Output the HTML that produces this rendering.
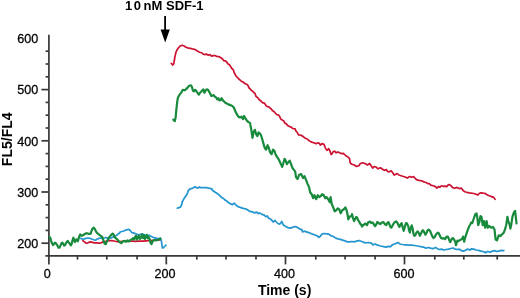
<!DOCTYPE html><html><head><meta charset="utf-8"><style>html,body{margin:0;padding:0;background:#fff;}svg{display:block;}text{font-family:"Liberation Sans",sans-serif;}.t{opacity:0.999;}</style></head><body>
<svg width="520" height="298" viewBox="0 0 520 298">
<rect width="520" height="298" fill="#fff"/>
<g stroke="#383838" stroke-width="1.7" fill="none" stroke-linecap="butt">
<line x1="48.9" y1="34.8" x2="48.9" y2="264.4"/>
<line x1="45.4" y1="255.9" x2="520" y2="255.9"/>
<line x1="41.4" y1="89.6" x2="48.9" y2="89.6"/>
<line x1="41.4" y1="140.8" x2="48.9" y2="140.8"/>
<line x1="41.4" y1="192.0" x2="48.9" y2="192.0"/>
<line x1="41.4" y1="243.2" x2="48.9" y2="243.2"/>
<line x1="45.6" y1="230.4" x2="48.9" y2="230.4"/>
<line x1="45.6" y1="217.6" x2="48.9" y2="217.6"/>
<line x1="45.6" y1="204.8" x2="48.9" y2="204.8"/>
<line x1="45.6" y1="179.2" x2="48.9" y2="179.2"/>
<line x1="45.6" y1="166.4" x2="48.9" y2="166.4"/>
<line x1="45.6" y1="153.6" x2="48.9" y2="153.6"/>
<line x1="45.6" y1="128.0" x2="48.9" y2="128.0"/>
<line x1="45.6" y1="115.2" x2="48.9" y2="115.2"/>
<line x1="45.6" y1="102.4" x2="48.9" y2="102.4"/>
<line x1="45.6" y1="76.8" x2="48.9" y2="76.8"/>
<line x1="45.6" y1="64.0" x2="48.9" y2="64.0"/>
<line x1="45.6" y1="51.2" x2="48.9" y2="51.2"/>
<line x1="166.3" y1="255.9" x2="166.3" y2="264.4"/>
<line x1="285.5" y1="255.9" x2="285.5" y2="264.4"/>
<line x1="404.5" y1="255.9" x2="404.5" y2="264.4"/>
<line x1="77.5" y1="255.9" x2="77.5" y2="259.6"/>
<line x1="106.8" y1="255.9" x2="106.8" y2="259.6"/>
<line x1="137.1" y1="255.9" x2="137.1" y2="259.6"/>
<line x1="196.8" y1="255.9" x2="196.8" y2="259.6"/>
<line x1="226" y1="255.9" x2="226" y2="259.6"/>
<line x1="256" y1="255.9" x2="256" y2="259.6"/>
<line x1="315.8" y1="255.9" x2="315.8" y2="259.6"/>
<line x1="345.1" y1="255.9" x2="345.1" y2="259.6"/>
<line x1="375.1" y1="255.9" x2="375.1" y2="259.6"/>
<line x1="434.8" y1="255.9" x2="434.8" y2="259.6"/>
<line x1="463.8" y1="255.9" x2="463.8" y2="259.6"/>
<line x1="497.2" y1="255.9" x2="497.2" y2="259.6"/>
</g>
<g class="t">
<g font-size="13.4" fill="#000" stroke="#000" stroke-width="0.3" text-anchor="end">
<text transform="translate(38.3,94.4) scale(0.94,1)">500</text>
<text transform="translate(38.3,145.6) scale(0.94,1)">400</text>
<text transform="translate(38.3,196.8) scale(0.94,1)">300</text>
<text transform="translate(38.3,248.0) scale(0.94,1)">200</text>
<text transform="translate(38.3,43.2) scale(0.94,1)">600</text>
</g>
<g font-size="13.4" fill="#000" stroke="#000" stroke-width="0.3" text-anchor="middle">
<text transform="translate(47.3,278.2) scale(0.94,1)">0</text>
<text transform="translate(165.0,278.2) scale(0.94,1)">200</text>
<text transform="translate(284.5,278.2) scale(0.94,1)">400</text>
<text transform="translate(403.9,278.2) scale(0.94,1)">600</text>
</g>
<text x="284.6" y="295" font-size="14" font-weight="bold" fill="#000" text-anchor="middle">Time (s)</text>
<text transform="translate(12,139.3) rotate(-90)" font-size="14" font-weight="bold" fill="#000" text-anchor="middle">FL5/FL4</text>
<text x="125" y="10.4" font-size="13" font-weight="bold" fill="#000">1<tspan dx="1.5">0</tspan><tspan dx="-1">&#160;nM SDF-1</tspan></text>
</g>
<line x1="165.1" y1="16" x2="165.1" y2="31" stroke="#000" stroke-width="1.8"/>
<polygon points="160.6,29.5 169.8,29.5 165.2,42.5" fill="#000"/>
<g fill="none" stroke-linejoin="round" stroke-linecap="round">
<path d="M82.8,240.6 L84.5,241.9 L86.3,243.2 L88.0,242.8 L90.2,241.9 L92.4,242.3 L94.6,242.8 L96.8,242.8 L99.0,243.2 L101.1,242.8 L103.3,241.9 L105.1,241.5 L107.3,241.0 L109.4,240.6 L111.6,240.6 L113.8,241.0 L116.4,241.5 L118.6,241.9 L120.8,241.5 L123.8,241.0 L127.5,241.4 L131.2,241.0 L135.0,241.4 L138.8,241.2 L142.5,241.2 L146.2,240.8 L150.0,240.4 L153.8,240.5 L157.5,239.8 L160.5,240.0" stroke="#cc1230" stroke-width="1.7"/>
<path d="M80.6,238.4 L83.2,239.3 L85.9,238.4 L88.5,238.0 L91.1,238.8 L93.7,239.7 L95.5,240.2 L96.8,239.3 L99.0,238.4 L100.7,238.0 L102.5,238.4 L104.2,238.0 L106.0,237.5 L108.6,238.4 L111.2,238.0 L112.9,237.1 L114.7,236.7 L116.4,235.4 L118.2,234.0 L119.9,232.7 L120.0,232.0 L121.9,231.5 L123.8,231.0 L125.6,230.1 L127.5,229.6 L128.9,229.4 L130.3,230.6 L131.7,232.5 L133.1,232.9 L135.0,233.4 L136.9,234.3 L138.8,234.8 L140.7,234.3 L142.5,233.9 L144.4,234.8 L146.3,235.7 L148.2,235.3 L150.0,235.7 L151.9,236.7 L153.8,237.6 L155.7,238.1 L157.6,238.6 L159.4,238.6 L160.4,238.1 L161.3,240.4 L161.8,244.2 L162.3,247.9 L163.2,247.9 L164.6,246.5 L166.0,245.1" stroke="#2596cf" stroke-width="1.7"/>
<path d="M49.6,237.2 L50.3,237.7 L51.2,241.1 L52.1,243.5 L53.0,245.0 L53.9,244.1 L54.9,242.6 L56.1,243.5 L57.3,245.3 L58.5,247.7 L59.4,247.7 L60.3,245.9 L61.5,243.2 L62.4,242.6 L63.3,244.1 L64.2,245.6 L65.1,245.0 L66.0,243.2 L67.0,241.7 L67.7,240.9 L68.5,242.1 L69.8,243.7 L70.8,245.3 L71.6,244.1 L72.4,240.9 L73.4,237.7 L74.2,240.1 L75.0,242.1 L75.8,240.1 L76.6,239.3 L77.8,241.3 L78.0,240.6 L79.3,236.2 L80.2,234.5 L81.5,235.8 L82.8,235.4 L84.1,234.5 L85.4,233.6 L86.7,233.2 L88.0,233.6 L89.4,234.0 L90.7,233.6 L91.5,231.0 L92.4,228.8 L93.7,227.7 L95.0,229.2 L95.9,231.4 L97.2,233.2 L99.0,234.5 L100.7,235.8 L102.0,236.7 L102.9,238.8 L103.8,241.5 L104.6,243.7 L105.8,244.1 L106.8,241.5 L108.1,239.3 L109.4,237.1 L110.8,235.4 L112.1,234.0 L112.9,233.6 L113.8,234.9 L114.7,237.1 L116.0,238.4 L117.3,239.3 L118.6,241.0 L119.9,242.3 L121.2,243.2 L121.9,242.3 L123.3,241.4 L124.7,240.9 L126.1,241.8 L127.5,240.4 L128.9,241.4 L130.3,240.0 L131.7,239.5 L133.1,238.1 L134.1,239.5 L135.0,237.1 L136.0,235.7 L136.9,239.5 L137.8,237.1 L138.8,235.7 L139.7,239.0 L140.7,238.1 L142.1,234.3 L143.0,238.1 L143.9,235.3 L144.9,239.0 L145.8,237.1 L146.8,234.8 L147.7,238.1 L148.6,237.1 L149.6,239.0 L150.5,242.8 L151.5,244.2 L152.4,241.8 L153.3,240.4 L154.7,240.0 L156.1,240.4 L157.6,240.0 L159.0,239.5 L160.4,238.6" stroke="#188a3c" stroke-width="2.2"/>
<path d="M171.2,63.3 L172.7,65.0 L173.8,63.8 L174.1,61.7 L174.3,60.5 L174.6,59.0 L174.8,57.4 L175.4,54.8 L176.0,52.2 L176.8,50.2 L177.8,48.7 L178.8,47.5 L180.1,46.0 L182.1,45.2 L184.1,46.0 L186.1,47.3 L187.7,47.9 L190.2,48.3 L192.2,48.9 L193.9,49.2 L195.7,49.9 L197.7,51.3 L199.6,52.2 L201.5,52.7 L202.9,53.9 L204.4,54.6 L206.4,54.1 L208.3,55.2 L209.9,54.5 L211.5,56.1 L213.1,55.6 L215.0,55.6 L216.9,56.5 L218.9,56.6 L220.8,57.7 L222.0,58.5 L223.8,60.6 L225.5,60.9 L226.7,62.0 L227.8,63.8 L229.0,64.4 L230.2,65.9 L231.4,67.8 L232.6,69.1 L233.4,70.0 L234.1,72.5 L234.9,73.8 L236.1,76.2 L237.3,77.3 L238.4,78.5 L239.6,79.6 L241.3,81.2 L243.1,82.0 L244.8,83.5 L246.6,84.3 L247.8,85.1 L249.0,87.9 L250.2,89.0 L251.4,90.4 L252.5,91.0 L253.7,92.6 L254.9,93.3 L256.0,96.4 L257.2,97.3 L258.4,98.4 L259.5,100.0 L260.7,100.8 L262.5,102.6 L264.3,103.1 L265.5,104.7 L266.6,106.2 L267.8,106.6 L269.6,107.6 L271.3,109.0 L272.5,110.7 L273.6,111.2 L274.8,112.5 L276.6,114.5 L278.3,114.9 L279.8,116.5 L280.0,117.6 L281.2,119.5 L282.5,120.1 L283.8,121.0 L285.0,123.4 L286.3,123.7 L287.6,125.4 L290.1,126.8 L291.4,127.1 L292.6,128.5 L295.1,128.8 L296.0,131.1 L296.8,131.8 L297.6,133.2 L298.5,134.8 L301.0,135.2 L303.5,136.8 L304.8,137.9 L306.0,138.5 L307.2,139.0 L308.5,140.2 L309.8,141.1 L311.0,141.9 L313.6,142.7 L316.1,143.6 L318.6,142.7 L319.5,143.7 L320.3,145.2 L321.9,143.6 L324.0,144.4 L324.6,145.8 L325.3,147.8 L326.1,149.2 L327.0,150.3 L328.7,148.6 L330.0,151.1 L330.6,153.0 L331.2,154.5 L332.0,153.9 L332.9,151.9 L334.5,151.1 L336.2,152.8 L337.9,151.9 L339.6,152.8 L341.2,153.6 L342.9,153.3 L344.6,154.5 L346.3,156.1 L348.0,157.0 L349.6,158.7 L349.9,161.1 L350.2,162.9 L351.9,164.2 L354.2,165.0 L356.5,166.5 L358.8,165.8 L360.4,163.5 L362.7,162.7 L365.0,163.5 L367.3,165.0 L369.6,163.5 L371.2,165.8 L372.7,168.1 L374.2,166.5 L376.5,167.3 L378.1,168.8 L380.4,167.8 L381.9,168.8 L384.2,170.4 L386.5,169.6 L387.6,171.5 L388.8,171.9 L391.2,170.8 L392.7,172.7 L394.2,175.0 L395.8,174.2 L397.3,173.5 L398.8,175.0 L401.2,175.8 L403.5,176.5 L405.8,177.3 L407.3,178.1 L409.6,176.5 L411.9,177.3 L413.5,176.5 L415.0,178.1 L416.5,179.6 L418.8,180.4 L421.2,180.7 L423.5,181.6 L425.0,182.2 L426.2,182.5 L427.7,183.6 L429.2,183.5 L430.8,185.1 L433.1,185.8 L435.4,186.6 L436.9,188.2 L438.5,186.6 L440.0,187.1 L441.5,185.8 L443.1,186.3 L444.6,186.2 L446.9,186.6 L448.0,185.0 L449.2,184.6 L450.8,185.5 L452.3,187.4 L454.6,188.2 L456.9,187.4 L459.2,188.6 L461.5,188.2 L463.1,190.5 L464.6,191.7 L466.9,192.3 L469.2,192.8 L471.5,193.2 L473.8,193.5 L476.2,194.3 L477.7,195.1 L479.2,193.5 L480.8,192.8 L483.1,193.2 L485.4,193.5 L486.9,194.8 L489.2,195.8 L491.5,196.6 L493.8,197.4 L495.1,199.4" stroke="#cc1230" stroke-width="1.7"/>
<path d="M177.4,208.2 L179.0,207.7 L180.6,206.9 L181.7,204.7 L182.2,202.0 L183.3,199.9 L184.9,197.2 L186.5,195.1 L187.6,192.9 L188.1,190.8 L189.7,189.1 L191.9,188.4 L193.5,187.7 L195.1,186.7 L196.2,187.5 L197.8,188.1 L199.4,187.0 L200.5,187.7 L202.1,187.5 L204.3,187.5 L206.4,187.7 L208.6,188.1 L212.0,188.8 L212.3,190.3 L214.5,191.8 L216.8,193.3 L219.0,194.8 L220.6,196.3 L222.1,197.8 L223.6,198.6 L225.1,200.1 L226.6,200.8 L228.1,202.3 L230.4,203.9 L232.6,204.6 L234.1,203.1 L236.4,205.4 L238.7,206.9 L240.9,207.6 L243.2,208.4 L245.4,208.8 L247.7,209.9 L250.0,211.4 L252.2,211.8 L254.5,212.9 L256.8,212.1 L258.3,213.7 L259.8,212.9 L262.0,214.4 L264.3,215.2 L265.8,216.7 L267.3,215.9 L268.8,218.2 L270.3,218.9 L271.8,220.4 L273.3,222.0 L274.9,220.4 L276.4,222.0 L277.9,223.5 L279.7,224.2 L280.3,223.5 L281.8,221.5 L282.6,223.4 L283.4,225.0 L285.7,226.5 L288.0,227.6 L290.3,228.1 L292.6,227.3 L294.9,226.5 L297.2,227.3 L299.5,228.8 L301.8,229.6 L302.6,231.9 L304.2,231.2 L306.5,231.9 L308.8,232.7 L311.1,233.5 L312.6,234.2 L314.9,235.0 L317.2,235.8 L318.8,237.3 L320.3,236.2 L321.8,234.2 L324.2,233.5 L326.5,233.8 L328.8,234.2 L331.1,235.8 L333.4,236.5 L335.7,238.1 L338.0,238.8 L340.3,239.3 L342.6,240.1 L344.9,240.8 L347.2,241.9 L349.5,241.9 L351.8,241.5 L354.2,241.9 L356.5,241.2 L358.0,240.8 L359.1,240.5 L362.2,241.7 L365.2,242.9 L368.3,242.5 L371.4,243.2 L372.9,244.8 L375.2,244.0 L377.5,245.1 L380.6,246.0 L383.7,246.6 L386.0,247.1 L388.3,246.3 L390.6,246.6 L392.2,244.8 L394.5,244.0 L396.8,243.2 L398.3,242.5 L399.8,244.0 L402.2,244.5 L405.2,244.8 L408.3,245.1 L411.4,245.1 L414.5,245.5 L417.5,246.0 L420.6,246.6 L423.7,247.1 L426.0,248.2 L428.3,247.5 L430.6,248.2 L432.9,248.6 L436.0,247.5 L436.9,248.5 L439.2,249.5 L441.5,249.1 L443.8,250.0 L446.2,249.5 L448.5,249.1 L450.8,248.5 L453.1,248.0 L454.6,248.8 L456.9,249.5 L459.2,249.1 L460.8,250.3 L463.1,251.1 L465.4,250.3 L467.7,249.1 L470.0,250.0 L471.5,248.8 L473.8,249.1 L476.2,250.0 L478.5,250.3 L480.8,251.1 L483.1,251.5 L485.4,252.6 L487.7,251.5 L490.0,252.2 L492.3,251.1 L494.6,250.6 L496.9,251.5 L499.2,250.8 L501.5,250.4 L503.8,250.7" stroke="#2596cf" stroke-width="1.75"/>
<path d="M173.3,119.6 L174.8,121.1 L175.6,117.8 L176.3,110.2 L177.1,102.7 L177.8,98.1 L179.3,95.1 L181.6,92.1 L182.8,89.8 L184.6,90.3 L186.1,89.1 L187.6,87.6 L189.1,85.7 L190.7,85.3 L191.9,86.8 L192.9,90.6 L194.0,91.3 L195.2,89.8 L196.0,90.5 L197.5,92.8 L198.8,94.7 L199.9,92.8 L200.9,92.0 L202.2,90.5 L203.4,89.4 L204.5,92.8 L205.6,90.5 L206.8,89.4 L208.0,89.7 L209.1,91.6 L210.2,93.6 L211.4,95.9 L212.7,95.6 L213.7,95.1 L214.8,96.7 L216.1,97.4 L217.3,99.3 L218.4,98.2 L219.5,100.5 L220.7,100.2 L221.5,98.2 L222.5,99.7 L223.8,101.3 L225.3,102.8 L226.9,103.6 L228.4,104.4 L230.3,105.1 L232.3,105.9 L233.8,107.5 L235.4,111.3 L236.9,114.4 L238.4,116.7 L240.0,117.5 L241.5,116.7 L243.1,119.0 L244.1,116.0 L245.4,118.3 L246.9,120.6 L248.5,122.1 L250.0,122.9 L251.3,129.8 L252.5,137.9 L253.8,131.6 L254.9,129.8 L256.2,134.3 L257.4,136.1 L258.5,132.5 L259.8,133.4 L261.0,135.2 L262.1,138.8 L263.4,143.4 L264.7,147.9 L266.1,149.7 L267.6,145.2 L268.8,147.9 L270.1,152.4 L271.6,154.2 L273.0,149.7 L274.3,150.6 L275.5,154.2 L277.0,156.9 L278.4,158.8 L279.7,161.5 L281.0,164.2 L282.1,166.9 L283.3,163.3 L284.6,158.8 L285.7,160.6 L286.9,164.2 L288.2,162.4 L289.7,160.6 L291.1,164.2 L292.4,167.8 L293.7,169.6 L295.1,171.4 L295.4,173.1 L296.0,177.1 L297.6,179.1 L299.0,175.1 L301.1,174.1 L303.1,178.1 L304.5,176.1 L306.1,180.1 L307.7,184.1 L309.1,187.1 L310.1,192.2 L311.7,194.2 L313.1,198.2 L314.5,195.2 L316.1,199.2 L317.8,195.2 L319.2,197.2 L320.6,196.2 L322.2,194.2 L323.8,195.2 L325.2,198.2 L326.6,197.2 L328.2,199.2 L329.8,202.2 L330.6,197.2 L331.8,204.2 L333.2,207.3 L334.7,211.3 L336.3,210.3 L337.9,208.3 L339.3,209.3 L340.7,213.3 L342.3,210.3 L343.9,209.3 L345.3,207.3 L346.3,209.3 L347.3,213.3 L348.3,219.3 L349.9,216.3 L351.7,216.5 L352.0,214.1 L353.0,218.1 L354.1,221.1 L355.1,219.1 L356.1,217.1 L357.1,217.6 L358.1,220.1 L359.1,221.6 L360.1,223.6 L361.1,224.6 L362.1,226.6 L363.1,225.1 L364.1,224.6 L365.1,223.6 L366.1,224.1 L367.1,225.1 L368.1,222.6 L369.1,222.1 L370.1,221.6 L371.2,223.1 L372.2,222.6 L373.2,223.1 L374.2,225.1 L375.2,226.1 L376.2,224.6 L377.2,222.1 L378.2,222.6 L379.2,223.6 L380.2,224.1 L381.2,223.1 L382.2,222.6 L383.2,222.1 L384.2,223.1 L385.2,224.6 L386.2,225.1 L387.3,223.1 L388.3,222.1 L389.3,224.1 L390.3,226.6 L391.3,227.6 L392.3,226.1 L393.3,224.1 L394.3,222.6 L395.0,222.0 L396.1,221.4 L397.2,222.5 L398.3,224.7 L399.4,226.9 L400.5,224.7 L401.6,223.1 L402.7,227.5 L403.8,230.8 L404.9,226.4 L406.0,223.1 L407.1,223.6 L408.3,226.4 L409.0,230.3 L409.9,232.5 L410.8,228.0 L411.7,225.3 L412.7,228.6 L413.5,234.1 L414.3,235.8 L415.4,235.2 L416.5,232.5 L417.7,231.4 L418.8,233.0 L419.9,235.8 L421.0,233.6 L422.1,230.8 L423.2,230.3 L424.3,232.5 L425.4,234.7 L426.5,233.0 L427.6,230.3 L428.7,229.7 L430.0,230.8 L431.2,233.6 L432.3,236.3 L433.4,238.0 L434.5,237.4 L435.6,235.2 L436.7,233.6 L438.0,232.6 L439.0,233.6 L440.0,236.1 L441.0,238.1 L442.1,238.6 L443.6,238.1 L445.1,239.1 L446.6,236.6 L447.9,236.6 L449.1,239.6 L450.1,242.2 L451.1,240.2 L452.1,238.6 L453.1,238.1 L454.1,239.6 L455.2,241.7 L456.0,245.2 L456.7,242.7 L457.4,240.7 L458.4,241.2 L459.7,240.2 L461.0,239.6 L462.0,239.1 L463.0,236.6 L463.7,239.1 L464.2,241.7 L465.0,238.1 L466.0,235.1 L467.0,232.1 L467.7,230.1 L468.5,228.1 L469.3,226.0 L470.3,224.5 L471.3,222.5 L472.3,223.0 L473.1,220.5 L473.8,218.5 L475.2,214.3 L476.5,213.4 L477.2,216.8 L478.2,225.2 L479.4,221.8 L480.5,216.0 L481.5,216.8 L482.7,225.2 L483.9,221.0 L485.2,227.7 L486.6,221.0 L487.8,227.7 L489.4,226.0 L491.1,227.7 L492.8,226.9 L494.5,229.4 L495.6,239.5 L497.0,240.3 L498.7,235.3 L500.3,236.1 L502.0,234.4 L503.7,232.8 L505.0,229.4 L506.2,225.2 L507.4,216.8 L508.4,221.8 L509.6,224.4 L510.4,228.6 L511.3,224.4 L512.4,216.8 L513.8,212.6 L515.1,210.9 L515.8,216.8 L516.5,223.5" stroke="#188a3c" stroke-width="2.2"/>
</g>
</svg></body></html>
